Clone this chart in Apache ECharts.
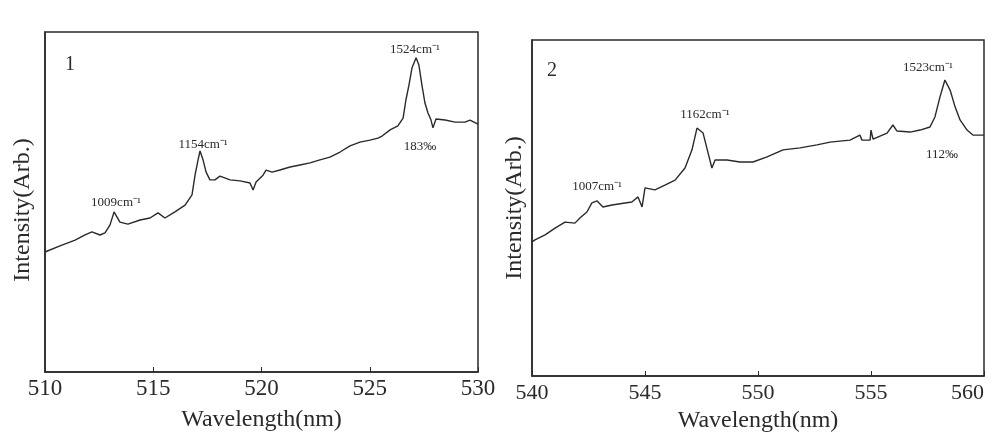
<!DOCTYPE html>
<html>
<head>
<meta charset="utf-8">
<script src="https://cdn.jsdelivr.net/npm/echarts@6/dist/echarts.min.js"></script>
<style>
  html, body { margin: 0; padding: 0; background: #fff; }
  #chart { width: 997px; height: 441px; }
</style>
</head>
<body>
<div id="chart"></div>
<script>
// panel 1 spectrum (wavelength nm, intensity arb.)
const wl1 = [510.00, 510.69, 511.39, 511.85, 512.17, 512.54, 512.77, 513.00, 513.19, 513.46,
  513.83, 514.39, 514.85, 515.22, 515.54, 516.00, 516.47, 516.79, 516.93, 517.07,
  517.16, 517.30, 517.44, 517.62, 517.85, 518.08, 518.55, 519.01, 519.47, 519.61,
  519.75, 520.07, 520.21, 520.49, 520.85, 521.32, 521.78, 522.24, 522.70, 523.16,
  523.63, 524.09, 524.55, 525.01, 525.38, 525.57, 525.94, 526.30, 526.54, 526.67,
  526.81, 526.95, 527.14, 527.27, 527.41, 527.55, 527.69, 527.83, 527.92, 528.06,
  528.48, 528.94, 529.40, 529.63, 530.00];
const int1 = [35.3, 37.1, 38.8, 40.3, 41.2, 40.3, 40.9, 43.2, 47.1, 44.1,
  43.5, 44.7, 45.3, 46.8, 45.3, 47.1, 49.1, 52.1, 57.9, 62.4,
  65.0, 62.4, 58.8, 56.5, 56.5, 57.6, 56.5, 56.2, 55.6, 53.5,
  55.9, 57.9, 59.4, 58.8, 59.4, 60.3, 60.9, 61.5, 62.4, 63.2,
  64.7, 66.5, 67.6, 68.2, 68.8, 69.4, 71.2, 72.4, 74.7, 80.0,
  84.4, 89.4, 92.4, 90.3, 84.4, 79.1, 76.2, 74.1, 71.8, 74.4,
  74.1, 73.5, 73.5, 74.1, 72.9];

// panel 2 spectrum
const wl2 = [540.00, 540.13, 540.58, 541.02, 541.46, 541.90, 542.12, 542.43, 542.65, 542.88,
  543.14, 543.54, 544.12, 544.42, 544.69, 544.87, 545.00, 545.44, 545.88, 546.33,
  546.77, 547.08, 547.30, 547.57, 547.79, 547.96, 548.10, 548.63, 549.20, 549.78,
  550.40, 551.11, 551.86, 552.61, 553.19, 554.07, 554.51, 554.60, 554.96, 555.00,
  555.09, 555.71, 555.97, 556.15, 556.73, 557.17, 557.61, 557.83, 558.05, 558.27,
  558.50, 558.72, 558.94, 559.25, 559.51, 560.00];
const int2 = [39.9, 40.5, 42.0, 44.0, 45.8, 45.5, 47.0, 48.8, 51.5, 52.1,
  50.3, 50.9, 51.5, 51.8, 53.3, 50.3, 56.0, 55.4, 56.8, 58.3,
  61.9, 67.3, 73.8, 72.3, 66.4, 61.9, 64.3, 64.3, 63.7, 63.7,
  65.2, 67.3, 67.9, 68.8, 69.6, 70.2, 71.7, 70.2, 70.2, 73.2,
  70.5, 72.3, 74.7, 72.9, 72.6, 73.2, 74.1, 77.1, 83.0, 88.1,
  85.1, 80.1, 76.2, 73.2, 71.7, 71.7];

// annotations: [wavelength, intensity, text]
const notes1 = [[511.15, 90.3, '1'], [513.28, 49.7, '1009cm⁻¹'], [517.30, 66.8, '1154cm⁻¹'],
  [527.09, 94.7, '1524cm⁻¹'], [527.32, 66.2, '183‰']];
const notes2 = [[540.88, 90.8, '2'], [542.88, 56.3, '1007cm⁻¹'], [547.65, 77.7, '1162cm⁻¹'],
  [557.52, 91.7, '1523cm⁻¹'], [558.14, 65.8, '112‰']];

const ticks1 = [510, 530, 5];
const ticks2 = [540, 560, 5];

const serif = 'Liberation Serif';
const ink = '#2a2a2a';

function xAxisFor(idx, t, gap, labelSize, margin, alignMax) {
  return {
    type: 'value', gridIndex: idx, min: t[0], max: t[1], interval: t[2],
    name: 'Wavelength(nm)', nameLocation: 'middle', nameGap: gap,
    nameTextStyle: { fontFamily: serif, fontSize: 24, color: ink },
    axisLine: { lineStyle: { color: ink, width: 1.5 } },
    axisTick: { inside: true, length: 5, lineStyle: { color: ink } },
    axisLabel: { fontFamily: serif, fontSize: labelSize, color: ink, margin: margin,
      alignMaxLabel: alignMax },
    splitLine: { show: false }
  };
}
function yAxisFor(idx, gap, pad) {
  return {
    type: 'value', gridIndex: idx, min: 0, max: 100,
    name: 'Intensity(Arb.)', nameLocation: 'middle', nameGap: gap, nameRotate: 90,
    nameTextStyle: { fontFamily: serif, fontSize: 24, color: ink, padding: pad },
    axisLine: { show: true, lineStyle: { color: ink, width: 1.5 } },
    axisTick: { show: false }, axisLabel: { show: false }, splitLine: { show: false }
  };
}
function seriesFor(idx, wl, vals, notes) {
  return {
    type: 'line', xAxisIndex: idx, yAxisIndex: idx, symbol: 'none',
    lineStyle: { color: ink, width: 1.4 },
    data: wl.map((w, i) => [w, vals[i]]),
    markPoint: {
      symbol: 'circle', symbolSize: 0, silent: true,
      data: notes.map(n => ({
        coord: [n[0], n[1]],
        label: {
          show: true, formatter: n[2], position: 'inside',
          fontFamily: serif, color: ink,
          fontSize: (n[2].length === 1) ? 20 : 13
        }
      }))
    }
  };
}

const chart = echarts.init(document.getElementById('chart'));
chart.setOption({
  animation: false,
  backgroundColor: '#fff',
  grid: [
    { left: 45, top: 32, width: 433, height: 340, show: true, borderColor: ink, borderWidth: 1.5,
      outerBoundsMode: 'none' },
    { left: 532, top: 40, width: 452, height: 336, show: true, borderColor: ink, borderWidth: 1.5,
      outerBoundsMode: 'none' }
  ],
  xAxis: [xAxisFor(0, ticks1, 36, 23, 5, 'center'), xAxisFor(1, ticks2, 32, 22, 6, 'right')],
  yAxis: [yAxisFor(0, 10, [0, 16, 0, 0]), yAxisFor(1, 5, [0, 0, 0, 0])],
  series: [seriesFor(0, wl1, int1, notes1), seriesFor(1, wl2, int2, notes2)]
});
</script>
</body>
</html>
